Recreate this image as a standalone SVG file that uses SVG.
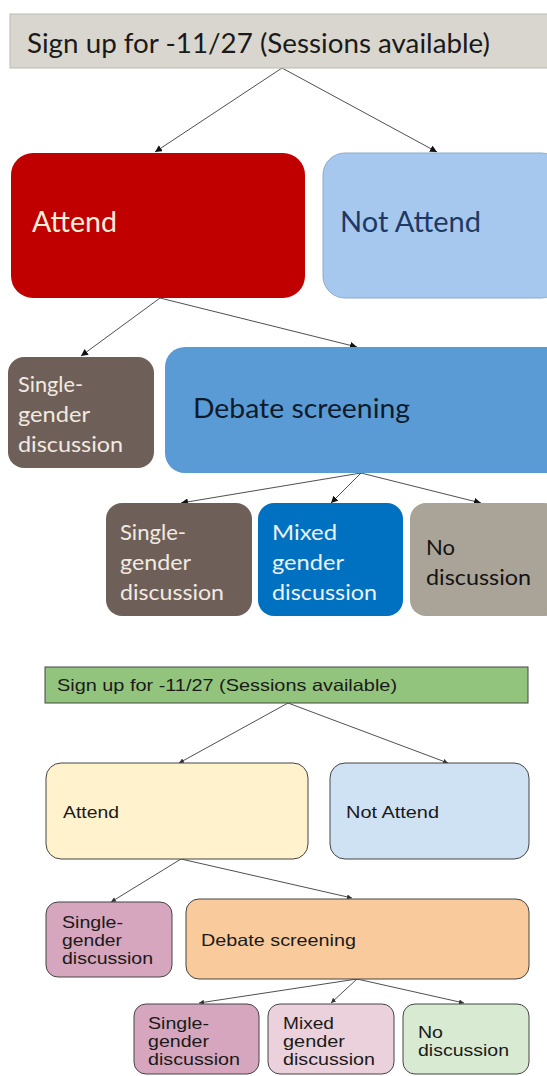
<svg xmlns="http://www.w3.org/2000/svg" width="547" height="1076" viewBox="0 0 547 1076">
<style>
.g{font-family:Lato,"Open Sans","DejaVu Sans",sans-serif}
.a{font-family:"Liberation Sans",Arial,sans-serif;font-size:16.5px;fill:#1a1a1a}
.c{stroke:#222;stroke-width:0.8;fill:none}
.b{stroke:#444;stroke-width:1}
</style>
<defs>
<marker id="ah" viewBox="0 0 10 10" refX="10" refY="5" markerWidth="7" markerHeight="7" orient="auto" markerUnits="userSpaceOnUse">
<path d="M0,0 L10,5 L0,10 z" fill="#111"/>
</marker>
<marker id="ah2" viewBox="0 0 10 10" refX="10" refY="5" markerWidth="5" markerHeight="5" orient="auto" markerUnits="userSpaceOnUse">
<path d="M0,0 L10,5 L0,10 z" fill="#333"/>
</marker>
</defs>
<rect width="547" height="1076" fill="#fff"/>
<g id="connectors-top">
<line class="c" x1="282" y1="68" x2="155" y2="152" marker-end="url(#ah)"/>
<line class="c" x1="282" y1="68" x2="437" y2="152" marker-end="url(#ah)"/>
<line class="c" x1="160" y1="298" x2="81" y2="356" marker-end="url(#ah)"/>
<line class="c" x1="160" y1="298" x2="357" y2="347" marker-end="url(#ah)"/>
<line class="c" x1="361" y1="473" x2="181" y2="503" marker-end="url(#ah)"/>
<line class="c" x1="361" y1="473" x2="331" y2="503" marker-end="url(#ah)"/>
<line class="c" x1="361" y1="473" x2="481" y2="503" marker-end="url(#ah)"/>
</g>
<g id="t-title">
<rect x="10" y="14" width="545" height="54" fill="#D9D6CF" stroke="#bdbab3" stroke-width="1"/>
<text class="g" x="27" y="53" font-size="27" fill="#1a1a1a" textLength="463" lengthAdjust="spacingAndGlyphs">Sign up for -11/27 (Sessions available)</text>
</g>
<g id="t-attend">
<rect x="11" y="153" width="294" height="145" rx="22" fill="#C00000"/>
<text class="g" x="32" y="232" font-size="28" fill="#FBEFD8" textLength="85" lengthAdjust="spacingAndGlyphs">Attend</text>
</g>
<g id="t-notattend">
<rect x="323" y="153" width="240" height="145" rx="22" fill="#A7C8EE" stroke="#8fa9c8" stroke-width="1"/>
<text class="g" x="340" y="232" font-size="28" fill="#1F3864" textLength="141" lengthAdjust="spacingAndGlyphs">Not Attend</text>
</g>
<g id="t-single1" class="g" font-size="22" fill="#F2EAE0">
<rect x="8" y="357" width="146" height="111" rx="16" fill="#6E6059"/>
<text x="18" y="392" textLength="65" lengthAdjust="spacingAndGlyphs">Single-</text>
<text x="18" y="422" textLength="72" lengthAdjust="spacingAndGlyphs">gender</text>
<text x="18" y="452" textLength="105" lengthAdjust="spacingAndGlyphs">discussion</text>
</g>
<g id="t-debate">
<rect x="165" y="347" width="400" height="126" rx="20" fill="#5B9BD5"/>
<text class="g" x="193" y="418" font-size="27" fill="#0E1B2C" textLength="217" lengthAdjust="spacingAndGlyphs">Debate screening</text>
</g>
<g id="t-single2" class="g" font-size="22" fill="#F2EAE0">
<rect x="106" y="503" width="146" height="113" rx="16" fill="#6E6059"/>
<text x="120" y="540" textLength="66" lengthAdjust="spacingAndGlyphs">Single-</text>
<text x="120" y="570" textLength="71" lengthAdjust="spacingAndGlyphs">gender</text>
<text x="120" y="600" textLength="104" lengthAdjust="spacingAndGlyphs">discussion</text>
</g>
<g id="t-mixed" class="g" font-size="22" fill="#EAF2FA">
<rect x="258" y="503" width="145" height="113" rx="16" fill="#0070C0"/>
<text x="272" y="540" textLength="65" lengthAdjust="spacingAndGlyphs">Mixed</text>
<text x="272" y="570" textLength="72" lengthAdjust="spacingAndGlyphs">gender</text>
<text x="272" y="600" textLength="105" lengthAdjust="spacingAndGlyphs">discussion</text>
</g>
<g id="t-nodisc" class="g" font-size="22" fill="#141414">
<rect x="410" y="503" width="150" height="113" rx="16" fill="#A9A398"/>
<text x="426" y="555" textLength="29" lengthAdjust="spacingAndGlyphs">No</text>
<text x="426" y="585" textLength="105" lengthAdjust="spacingAndGlyphs">discussion</text>
</g>
<g id="connectors-bottom">
<line class="c" x1="288" y1="703" x2="179" y2="763" marker-end="url(#ah2)"/>
<line class="c" x1="288" y1="703" x2="448" y2="763" marker-end="url(#ah2)"/>
<line class="c" x1="181" y1="859" x2="111" y2="902" marker-end="url(#ah2)"/>
<line class="c" x1="181" y1="859" x2="352" y2="898" marker-end="url(#ah2)"/>
<line class="c" x1="357" y1="979" x2="199" y2="1003" marker-end="url(#ah2)"/>
<line class="c" x1="357" y1="979" x2="331" y2="1003" marker-end="url(#ah2)"/>
<line class="c" x1="357" y1="979" x2="464" y2="1003" marker-end="url(#ah2)"/>
</g>
<g id="b-title">
<rect class="b" x="45" y="667" width="483" height="36" fill="#93C47D"/>
<text class="a" x="57" y="691" textLength="340" lengthAdjust="spacingAndGlyphs">Sign up for -11/27 (Sessions available)</text>
</g>
<g id="b-attend">
<rect class="b" x="46" y="763" width="262" height="96" rx="15" fill="#FFF2CC"/>
<text class="a" x="63" y="818" textLength="56" lengthAdjust="spacingAndGlyphs">Attend</text>
</g>
<g id="b-notattend">
<rect class="b" x="330" y="763" width="199" height="96" rx="15" fill="#CFE2F3"/>
<text class="a" x="346" y="818" textLength="93" lengthAdjust="spacingAndGlyphs">Not Attend</text>
</g>
<g id="b-single1" class="a">
<rect class="b" x="46" y="902" width="126" height="75" rx="12" fill="#D5A6BD"/>
<text x="62" y="928" textLength="61" lengthAdjust="spacingAndGlyphs">Single-</text>
<text x="62" y="946" textLength="60" lengthAdjust="spacingAndGlyphs">gender</text>
<text x="62" y="964" textLength="91" lengthAdjust="spacingAndGlyphs">discussion</text>
</g>
<g id="b-debate">
<rect class="b" x="186" y="899" width="343" height="80" rx="13" fill="#F9CB9C"/>
<text class="a" x="201" y="946" textLength="155" lengthAdjust="spacingAndGlyphs">Debate screening</text>
</g>
<g id="b-single2" class="a">
<rect class="b" x="134" y="1004" width="125" height="70" rx="12" fill="#D5A6BD"/>
<text x="148" y="1029" textLength="61" lengthAdjust="spacingAndGlyphs">Single-</text>
<text x="148" y="1047" textLength="61" lengthAdjust="spacingAndGlyphs">gender</text>
<text x="148" y="1065" textLength="92" lengthAdjust="spacingAndGlyphs">discussion</text>
</g>
<g id="b-mixed" class="a">
<rect class="b" x="268" y="1004" width="126" height="70" rx="12" fill="#EAD1DC"/>
<text x="283" y="1029" textLength="51" lengthAdjust="spacingAndGlyphs">Mixed</text>
<text x="283" y="1047" textLength="62" lengthAdjust="spacingAndGlyphs">gender</text>
<text x="283" y="1065" textLength="92" lengthAdjust="spacingAndGlyphs">discussion</text>
</g>
<g id="b-nodisc" class="a">
<rect class="b" x="403" y="1004" width="126" height="70" rx="12" fill="#D9EAD3"/>
<text x="418" y="1038" textLength="25" lengthAdjust="spacingAndGlyphs">No</text>
<text x="418" y="1056" textLength="91" lengthAdjust="spacingAndGlyphs">discussion</text>
</g>
</svg>
